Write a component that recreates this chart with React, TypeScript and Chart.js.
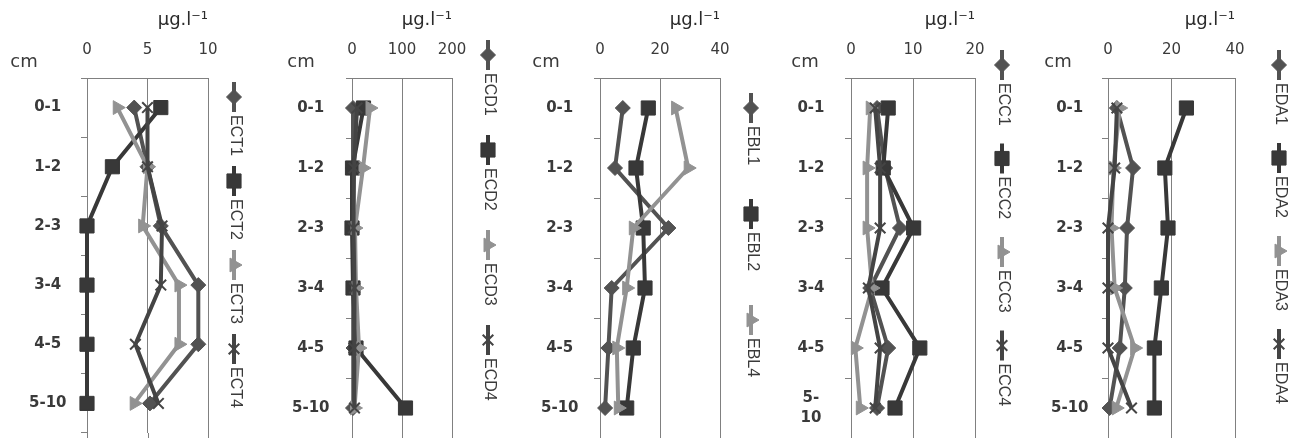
import React, { useEffect, useRef } from 'react';
import { Chart, registerables } from 'chart.js';
import { drawPoint } from 'chart.js/helpers';

Chart.register(...registerables);

// ---------- data ----------
const depthLabels = ['0-1', '1-2', '2-3', '3-4', '4-5', '5-10'];
const depthLabelsWrapped = ['0-1', '1-2', '2-3', '3-4', '4-5', ['5-', '10']];
const depthUnit = 'cm';
const concUnit = 'µg.l⁻¹';

const ectNames = ['ECT1', 'ECT2', 'ECT3', 'ECT4'];
const ect1 = [3.9, 5.0, 6.1, 9.2, 9.2, 5.2];
const ect2 = [6.1, 2.1, 0, 0, 0, 0];
const ect3 = [2.5, 5.0, 4.6, 7.6, 7.6, 3.9];
const ect4 = [5.0, 5.0, 6.2, 6.1, 4.0, 5.9];
const ectTicks = [0, 5, 10];

const ecdNames = ['ECD1', 'ECD2', 'ECD3', 'ECD4'];
const ecd1 = [2, 2, 3, 3, 3, 2];
const ecd2 = [23, 1, 0, 2, 8, 107];
const ecd3 = [36, 22, 6, 8, 14, 5];
const ecd4 = [10, 4, 3, 5, 4, 5];
const ecdTicks = [0, 100, 200];

const eblNames = ['EBL1', 'EBL2', 'EBL4'];
const ebl1 = [7.6, 5.0, 22.8, 3.9, 2.8, 1.7];
const ebl2 = [16.1, 12.0, 14.4, 15.0, 11.1, 8.9];
const ebl4 = [25.2, 29.4, 11.1, 8.9, 5.6, 6.1];
const eblTicks = [0, 20, 40];

const eccNames = ['ECC1', 'ECC2', 'ECC3', 'ECC4'];
const ecc1 = [4.2, 5.5, 7.9, 3.1, 6.0, 4.2];
const ecc2 = [6.0, 5.2, 10.1, 5.0, 11.1, 7.1];
const ecc3 = [3.1, 2.6, 2.6, 3.4, 0.7, 1.5];
const ecc4 = [3.9, 4.7, 4.7, 2.8, 4.7, 3.9];
const eccTicks = [0, 10, 20];

const edaNames = ['EDA1', 'EDA2', 'EDA3', 'EDA4'];
const eda1 = [2.8, 7.9, 6.0, 5.3, 3.7, 0.5];
const eda2 = [24.7, 17.9, 18.9, 16.8, 14.6, 14.6];
const eda3 = [3.7, 1.7, 1.1, 2.1, 8.4, 2.6];
const eda4 = [2.8, 2.1, 0, 0, 0, 7.4];
const edaTicks = [0, 20, 40];

// ---------- styles ----------
type Style = { color: string; pointStyle: string; radius: number; rotation: number; pbw: number };
const sDiamond: Style = { color: '#525252', pointStyle: 'rectRot', radius: 7.5, rotation: 0, pbw: 1 };
const sSquare: Style = { color: '#383838', pointStyle: 'rect', radius: 10, rotation: 0, pbw: 1 };
const sTriangle: Style = { color: '#929292', pointStyle: 'triangle', radius: 8, rotation: 90, pbw: 1 };
const sCross: Style = { color: '#444444', pointStyle: 'crossRot', radius: 7.5, rotation: 0, pbw: 2 };

const GRID = '#808080';
const TEXT = '#3a3a3a';
const H = 438;

type PanelCfg = {
  names: string[];
  series: number[][];
  styles: Style[];
  ticks: number[];
  labels: any[];
  left: number; right: number; axisLeft: number; axisRight: number; bottom: number;
  legendX: number; legendY: number; legendStep: number; cmX: number; labelPad: number;
};

const panels: PanelCfg[] = [
  { names: ectNames, series: [ect1, ect2, ect3, ect4], styles: [sDiamond, sSquare, sTriangle, sCross], ticks: ectTicks, labels: depthLabels,
    left: 0, right: 262, axisLeft: 87, axisRight: 208, bottom: 433, legendX: 234, legendY: 82, legendStep: 84, cmX: 24, labelPad: 14.5 },
  { names: ecdNames, series: [ecd1, ecd2, ecd3, ecd4], styles: [sDiamond, sSquare, sTriangle, sCross], ticks: ecdTicks, labels: depthLabels,
    left: 262, right: 520, axisLeft: 352, axisRight: 452, bottom: 438, legendX: 488, legendY: 40, legendStep: 95, cmX: 301, labelPad: 16.5 },
  { names: eblNames, series: [ebl1, ebl2, ebl4], styles: [sDiamond, sSquare, sTriangle], ticks: eblTicks, labels: depthLabels,
    left: 520, right: 778, axisLeft: 600, axisRight: 720, bottom: 444, legendX: 751, legendY: 93, legendStep: 106, cmX: 546, labelPad: 15.5 },
  { names: eccNames, series: [ecc1, ecc2, ecc3, ecc4], styles: [sDiamond, sSquare, sTriangle, sCross], ticks: eccTicks, labels: depthLabelsWrapped,
    left: 778, right: 1040, axisLeft: 851, axisRight: 975, bottom: 438, legendX: 1002, legendY: 50, legendStep: 93.5, cmX: 805, labelPad: 20.5 },
  { names: edaNames, series: [eda1, eda2, eda3, eda4], styles: [sDiamond, sSquare, sTriangle, sCross], ticks: edaTicks, labels: depthLabels,
    left: 1040, right: 1295, axisLeft: 1108, axisRight: 1235, bottom: 438, legendX: 1279, legendY: 50, legendStep: 93, cmX: 1058, labelPad: 13.5 },
];

const decorPlugin = {
  id: 'panelDecor',
  afterDraw(chart: any, _args: any, opts: any) {
    const ctx = chart.ctx;
    const area = chart.chartArea;
    ctx.save();
    // extend vertical grid lines to canvas bottom
    const xs = chart.scales.x;
    if (area.bottom < chart.height) {
      ctx.strokeStyle = GRID;
      ctx.lineWidth = 1;
      xs.ticks.forEach((t: any) => {
        const px = Math.round(xs.getPixelForValue(t.value)) + 0.5;
        ctx.beginPath();
        ctx.moveTo(px, area.bottom);
        ctx.lineTo(px, chart.height);
        ctx.stroke();
      });
    }
    // depth unit label
    ctx.fillStyle = TEXT;
    ctx.font = '18px "DejaVu Sans", sans-serif';
    ctx.textAlign = 'center';
    ctx.textBaseline = 'middle';
    ctx.fillText(opts.cmText, opts.cmX, 62);
    // vertical legend
    chart.data.datasets.forEach((ds: any, i: number) => {
      const cx = opts.legendX;
      const y0 = opts.legendY + i * opts.legendStep;
      const len = 30;
      ctx.strokeStyle = ds.borderColor;
      ctx.lineWidth = ds.borderWidth;
      ctx.beginPath();
      ctx.moveTo(cx, y0);
      ctx.lineTo(cx, y0 + len);
      ctx.stroke();
      ctx.fillStyle = ds.pointBackgroundColor;
      ctx.strokeStyle = ds.pointBorderColor;
      ctx.lineWidth = ds.pointBorderWidth;
      drawPoint(ctx, { pointStyle: ds.pointStyle, rotation: ds.pointRotation, radius: ds.pointRadius, borderWidth: ds.pointBorderWidth }, cx, y0 + len / 2);
      ctx.save();
      ctx.translate(cx + 1, y0 + len + 3);
      ctx.rotate(Math.PI / 2);
      ctx.fillStyle = TEXT;
      ctx.font = '16px "Liberation Sans", sans-serif';
      ctx.textAlign = 'left';
      ctx.textBaseline = 'middle';
      ctx.fillText(ds.label, 0, 0);
      ctx.restore();
    });
    ctx.restore();
  },
};

function Panel({ cfg }: { cfg: PanelCfg }) {
  const ref = useRef<HTMLCanvasElement>(null);
  const w = cfg.right - cfg.left;
  useEffect(() => {
    const canvas = ref.current!;
    const n = cfg.series.length;
    const chart = new Chart(canvas, {
      type: 'line',
      data: {
        labels: cfg.labels,
        datasets: cfg.series.map((vals, i) => {
          const st = cfg.styles[i];
          return {
            label: cfg.names[i],
            data: vals,
            borderColor: st.color,
            backgroundColor: st.color,
            pointBackgroundColor: st.color,
            pointBorderColor: st.color,
            borderWidth: 4,
            pointStyle: st.pointStyle,
            pointRadius: st.radius,
            pointRotation: st.rotation,
            pointBorderWidth: st.pbw,
            tension: 0,
            fill: false,
            clip: false,
            order: n - i,
          } as any;
        }),
      },
      options: {
        indexAxis: 'y',
        responsive: false,
        animation: false,
        devicePixelRatio: 1,
        layout: { autoPadding: false, padding: { left: 0, top: 0, right: cfg.right - cfg.axisRight, bottom: H - cfg.bottom } },
        plugins: {
          legend: { display: false },
          tooltip: { enabled: false },
          panelDecor: {
            cmText: depthUnit,
            cmX: cfg.cmX - cfg.left,
            legendX: cfg.legendX - cfg.left,
            legendY: cfg.legendY,
            legendStep: cfg.legendStep,
          },
        } as any,
        scales: {
          x: {
            type: 'linear',
            position: 'top',
            min: cfg.ticks[0],
            max: cfg.ticks[cfg.ticks.length - 1],
            ticks: {
              stepSize: cfg.ticks[1] - cfg.ticks[0],
              padding: 19,
              color: TEXT,
              maxRotation: 0,
              font: { family: '"DejaVu Sans", sans-serif', size: 15 },
            },
            grid: { color: GRID, lineWidth: 1, drawTicks: false },
            border: { display: true, color: GRID, width: 1 },
            title: {
              display: true,
              text: concUnit,
              align: 'end',
              color: '#2a2a2a',
              font: { family: '"DejaVu Sans", sans-serif', size: 18 },
              padding: { top: 10, bottom: 0 },
            },
            afterFit: (s: any) => { s.height = 78; },
          },
          y: {
            type: 'category',
            offset: true,
            grid: { offset: true, drawOnChartArea: false, drawTicks: true, tickLength: 6, color: GRID },
            border: { display: true, color: GRID, width: 1 },
            ticks: {
              padding: cfg.labelPad,
              crossAlign: 'center',
              autoSkip: false,
              color: TEXT,
              font: { family: '"DejaVu Sans", sans-serif', size: 15, weight: 'bold', lineHeight: 1.3 },
            },
            afterFit: (s: any) => {
              s.width = cfg.axisLeft - cfg.left;
              s.paddingTop = 0;
              s.paddingBottom = 0;
            },
          },
        } as any,
      },
      plugins: [decorPlugin],
    });
    return () => chart.destroy();
  }, []);
  return (
    <canvas
      ref={ref}
      width={w}
      height={H}
      style={{ position: 'absolute', left: cfg.left, top: 0, width: w, height: H }}
    />
  );
}

export default function App() {
  return (
    <div style={{ position: 'absolute', left: 0, top: 0, width: 1295, height: H, background: '#fff', overflow: 'hidden' }}>
      {panels.map((p, i) => (
        <Panel key={i} cfg={p} />
      ))}
    </div>
  );
}
